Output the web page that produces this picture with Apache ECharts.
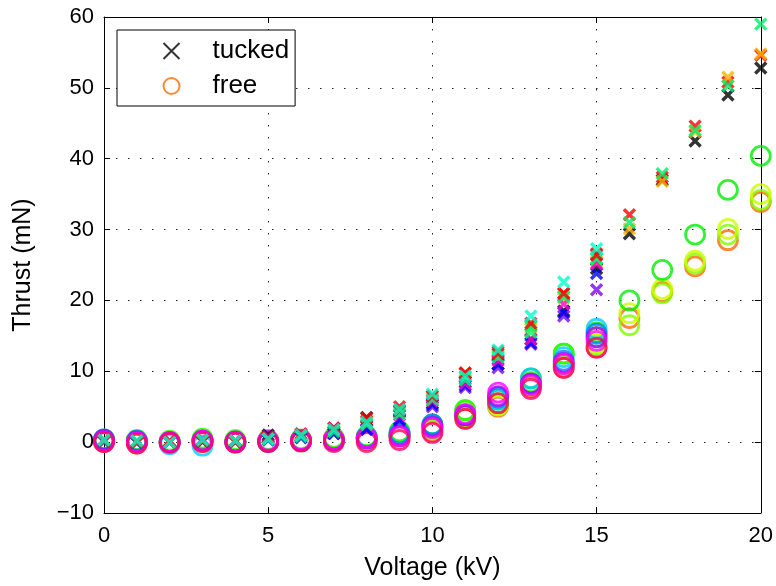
<!DOCTYPE html>
<html>
<head>
<meta charset="utf-8">
<script src="https://cdn.jsdelivr.net/npm/echarts@6/dist/echarts.min.js"></script>
<style>html,body{margin:0;padding:0;background:#fff}#c{width:776px;height:586px}</style>
</head>
<body>
<div id="c"></div>
<script>
// Voltages (kV)
var voltsA = [0,1,2,3,4,5,6,7,8,9,10,11,12,13,14,15,16,17,18,19,20];
var voltsB = [0,1,2,3,4,5,6,7,8,9,10,11,12,13,14,15];
var xTicks = [0,5,10,15,20];
var yTicks = [-10,0,10,20,30,40,50,60];

// Group A, tucked (mN)
var tuckBlackA  = [0.2,0.1,0,0.1,0.2,1.0,0.8,1.2,3.5,4.5,5.5,8.5,11,14.5,18.5,24.5,29.4,37.0,42.5,49.0,52.8];
var tuckRedA    = [0.3,0,0,0.2,0.1,0.6,1.0,1.5,3.4,5.0,6.5,9.8,12.8,16.5,21,26.6,32.1,37.4,44.6,50.8,54.6];
var tuckOrangeA = [0.2,0.1,0.1,0.1,0.2,0.5,0.8,1.4,2.8,4.2,6.0,9.3,12.2,16.0,20.3,25.5,30.1,36.8,43.8,51.5,54.8];
var tuckGreenA  = [0.1,0,0,0.2,0.1,0.5,0.8,1.3,2.9,4.3,6.2,9.2,12.4,16.3,20.6,25.9,31.0,37.9,44.0,50.3,59.0];
// Group A, free (mN)
var freeGreenA  = [0.3,0,0,0.4,0.1,0.2,0.3,0.5,0.8,1.5,2.5,4.5,6.0,9.0,12.5,15.5,20.0,24.3,29.3,35.6,40.4];
var freeYellowA = [0.2,0,0.1,0.3,0,0.1,0.2,0.4,0.5,1.2,2.0,3.8,5.2,8.0,11.0,14.0,18.2,21.6,25.6,30.1,35.0];
var freeOrangeA = [0,-0.2,-0.1,0,0,0,0.1,0.2,0.3,0.8,1.5,3.3,5.0,7.8,10.5,13.4,17.5,21.2,24.8,28.5,33.9];
var freeLimeA   = [0.1,0,0,0.2,0,0.1,0.2,0.3,0.4,1.0,1.8,3.5,5.2,8.2,10.8,13.8,16.5,21.0,25.2,29.3,34.2];

// Group B, tucked (mN)
var tuckCyanB    = [0.3,0.2,0,0.3,0.2,0.5,1.0,1.8,2.8,4.6,6.8,9.3,13.0,17.8,22.6,27.3];
var tuckPinkB    = [0.2,0,0.1,0.2,0.1,0.7,1.2,2.0,3.0,4.5,6.5,9.7,12.5,16.8,21.0,26.4];
var tuckGreenB   = [0.2,0,0,0.2,0.1,0.4,0.8,1.5,2.5,4.0,6.0,8.8,12.0,15.5,20.5,25.9];
var tuckMagentaB = [0.3,0.1,0.2,0.4,0.2,0.6,1.1,2.0,2.5,3.8,5.8,8.3,11.5,14.5,19.5,25.2];
var tuckBlueB    = [0.1,-0.1,0,0.1,0,0.3,0.6,1.2,1.8,3.2,5.3,8.0,11.0,14.0,18.3,23.8];
var tuckPurpleB  = [0.2,0,0.1,0.2,0.1,0.8,0.8,1.5,1.8,3.0,5.0,7.7,10.5,13.8,17.8,21.5];
// Group B, free (mN)
var freeCyanB    = [0.2,0.2,-0.3,-0.5,0,0,0.2,0.2,0.5,1.0,2.3,3.8,6.0,9.0,12.0,16.0];
var freeGreenB   = [0.4,0.3,0.2,0.5,0.3,0.3,0.4,0.6,0.8,0.9,2.0,4.5,5.5,8.5,12.5,14.8];
var freeBlueB    = [0.4,0.2,0,0.2,0,0.1,0.2,0.3,0.7,1.2,2.5,3.8,6.3,8.2,11.5,15.3];
var freePurpleB  = [0.3,0.1,0,0.2,0.1,0.1,0.2,0.3,0.5,0.9,2.2,3.8,6.5,8.3,11.2,14.8];
var freeMagentaB = [0.1,0,0,0.2,0,0.2,0.3,0.4,0.6,0.8,2.0,4.0,7.0,8.0,11.0,14.3];
var freePinkB    = [0,-0.2,-0.1,0,-0.1,0,0.1,0,0,0.3,1.3,3.3,5.5,7.5,10.5,13.3];

var X_PATH = 'path://M0,0L10,10M10,0L0,10';
function zip(xs, ys){ return ys.map(function(y,i){ return [xs[i], y]; }); }
function tucked(xs, ys, color){
  return {type:'scatter', name:'t_'+color, data: zip(xs, ys), symbol: X_PATH, symbolSize: 11,
    itemStyle:{color:'none', borderColor: color, borderWidth: 3.4}, silent:true, z:3};
}
function free(xs, ys, color){
  return {type:'scatter', name:'f_'+color, data: zip(xs, ys), symbol: 'circle', symbolSize: 19,
    itemStyle:{color:'none', borderColor: color, borderWidth: 2.8}, silent:true, z:2};
}

var series = [
  free(voltsA, freeOrangeA, '#ff6a00'),
  free(voltsA, freeLimeA, '#80ff00'),
  free(voltsA, freeYellowA, '#ccff00'),
  free(voltsA, freeGreenA, '#00ee00'),
  tucked(voltsA, tuckBlackA, '#000000'),
  tucked(voltsA, tuckRedA, '#ff0000'),
  tucked(voltsA, tuckOrangeA, '#ffb000'),
  tucked(voltsA, tuckGreenA, '#00ee66'),
  free(voltsB, freeCyanB, '#00ccff'),
  free(voltsB, freeGreenB, '#33ff00'),
  free(voltsB, freeBlueB, '#0080ff'),
  free(voltsB, freePurpleB, '#aa00ff'),
  free(voltsB, freeMagentaB, '#ff00ff'),
  free(voltsB, freePinkB, '#ff0066'),
  tucked(voltsB, tuckPurpleB, '#8000ff'),
  tucked(voltsB, tuckBlueB, '#0000ff'),
  tucked(voltsB, tuckMagentaB, '#ff00cc'),
  tucked(voltsB, tuckGreenB, '#00ff66'),
  tucked(voltsB, tuckPinkB, '#ff0000'),
  tucked(voltsB, tuckCyanB, '#00ffcc'),
  {type:'scatter', name:'tucked', data:[], symbol: X_PATH, symbolSize: 10,
    itemStyle:{color:'none', borderColor:'#000', borderWidth:3.4}},
  {type:'scatter', name:'free', data:[], symbol:'circle', symbolSize: 15,
    itemStyle:{color:'none', borderColor:'#ff6a00', borderWidth:2.8}}
];

var FONT = 'Liberation Sans, Arial, Helvetica, sans-serif';
var axisLineStyle = {color:'#000', width:1};
var grid = {left:104, right:15, top:17, bottom:69};
function numFmt(v){ return v < 0 ? '\u2212' + Math.abs(v) : String(v); }
var chart = echarts.init(document.getElementById('c'), null, {renderer:'canvas'});
chart.setOption({
  animation:false,
  backgroundColor:'#fff',
  grid: grid,
  legend: {
    data:['tucked','free'], orient:'vertical', left:117, top:30,
    padding:[8, 6, 7, 44], itemGap: 9, itemWidth:16, itemHeight:16,
    backgroundColor:'#fff', borderColor:'#000', borderWidth:1, borderRadius:0,
    textStyle:{fontFamily:FONT, fontSize:26, color:'#000', padding:[0,0,0,28]},
    selectedMode:false
  },
  xAxis: [{
    type:'value', min:xTicks[0], max:xTicks[xTicks.length-1], interval:5,
    name:'Voltage (kV)', nameLocation:'middle', nameGap:43,
    nameTextStyle:{fontFamily:FONT, fontSize:25, color:'#000'},
    axisLine:{show:true, onZero:false, lineStyle:axisLineStyle},
    axisTick:{show:true, inside:true, length:6, lineStyle:axisLineStyle},
    axisLabel:{fontFamily:FONT, fontSize:22, color:'#000', margin:12, formatter:numFmt},
    splitLine:{show:true, lineStyle:{color:'#222', width:1, type:[1.5,10.5]}}
  },{
    type:'value', position:'top', min:0, max:20, interval:5,
    axisLine:{show:true, onZero:false, lineStyle:axisLineStyle},
    axisTick:{show:true, inside:true, length:6, lineStyle:axisLineStyle},
    axisLabel:{show:false}, splitLine:{show:false}
  }],
  yAxis: [{
    type:'value', min:yTicks[0], max:yTicks[yTicks.length-1], interval:10,
    name:'Thrust (mN)', nameLocation:'middle', nameGap:68, nameRotate:90,
    nameTextStyle:{fontFamily:FONT, fontSize:25, color:'#000'},
    axisLine:{show:true, onZero:false, lineStyle:axisLineStyle},
    axisTick:{show:true, inside:true, length:6, lineStyle:axisLineStyle},
    axisLabel:{fontFamily:FONT, fontSize:22, color:'#000', margin:10, formatter:numFmt},
    splitLine:{show:true, lineStyle:{color:'#222', width:1, type:[1.5,10.5]}}
  },{
    type:'value', position:'right', min:-10, max:60, interval:10,
    axisLine:{show:true, onZero:false, lineStyle:axisLineStyle},
    axisTick:{show:true, inside:true, length:6, lineStyle:axisLineStyle},
    axisLabel:{show:false}, splitLine:{show:false}
  }],
  series: series
});
</script>
</body>
</html>
